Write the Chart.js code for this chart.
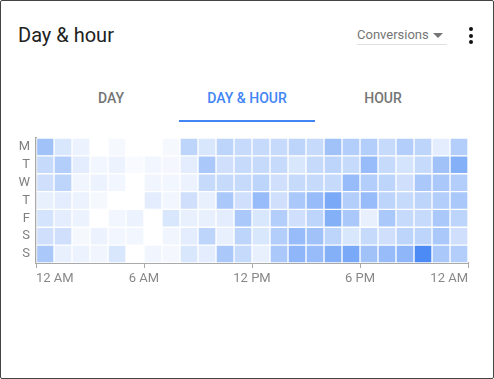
<!DOCTYPE html>
<html>
<head>
<meta charset="utf-8">
<script src="https://cdn.jsdelivr.net/npm/chart.js@4"></script>
<style>
  body { margin: 0; background: #fff; font-family: Roboto, Arial, sans-serif; }
  .card { position: relative; width: 494px; height: 379px; box-sizing: border-box; border: 1px solid #444; border-radius: 2px; overflow: hidden; }
  .title { position: absolute; left: 17px; top: 22px; font-size: 20px; color: #212121; }
  .metric { position: absolute; left: 356px; top: 26px; width: 90px; height: 17px; border-bottom: 1px solid #e0e0e0; font-size: 13px; color: #757575; }
  .caret { position: absolute; left: 76px; top: 6px; width: 0; height: 0; border-left: 5px solid transparent; border-right: 5px solid transparent; border-top: 5px solid #757575; }
  .kebab { position: absolute; left: 468px; top: 26px; }
  .kebab i { display: block; width: 4px; height: 4px; border-radius: 2px; background: #111; margin-bottom: 2.5px; }
  .tab { position: absolute; top: 89px; font-size: 14px; font-weight: 500; color: #757575; transform: translateX(-50%); white-space: nowrap; }
  .tab.on { color: #4285f4; }
  .bar { position: absolute; left: 178px; top: 119px; width: 136px; height: 2px; background: #4285f4; }
  .chartbox { position: absolute; left: 0; top: 130px; width: 494px; height: 165px; }
</style>
</head>
<body>
<div class="card">
  <div class="title">Day &amp; hour</div>
  <div class="metric">Conversions<span class="caret"></span></div>
  <div class="kebab"><i></i><i></i><i></i></div>
  <div class="tab" style="left:110px">DAY</div>
  <div class="tab on" style="left:246px">DAY &amp; HOUR</div>
  <div class="tab" style="left:382px">HOUR</div>
  <div class="bar"></div>
  <div class="chartbox"><canvas id="heatmap"></canvas></div>
</div>
<script>
const days = ['M', 'T', 'W', 'T', 'F', 'S', 'S'];
const hourTicks = ['12 AM', '6 AM', '12 PM', '6 PM', '12 AM'];

// relative conversions per hour (0 = none, 100 = max), one row per day
const mon = [50, 20, 10, 0, 5, 0, 0, 5, 35, 20, 35, 30, 30, 30, 35, 30, 50, 40, 40, 30, 40, 35, 15, 40];
const tue = [30, 40, 15, 7, 10, 4, 7, 6, 15, 45, 25, 30, 30, 30, 20, 30, 35, 30, 55, 30, 22, 30, 50, 65];
const wed = [25, 35, 8, 10, 7, 0, 8, 7, 10, 30, 30, 30, 35, 25, 30, 30, 30, 55, 40, 35, 25, 45, 45, 40];
const thu = [12, 15, 10, 5, 0, 0, 15, 7, 25, 12, 45, 25, 55, 25, 45, 55, 70, 40, 55, 35, 30, 35, 40, 45];
const fri = [22, 15, 10, 0, 7, 10, 0, 20, 12, 12, 15, 45, 20, 40, 25, 35, 65, 45, 12, 45, 30, 30, 45, 35];
const sat = [25, 25, 5, 10, 7, 7, 0, 8, 15, 35, 12, 35, 20, 40, 55, 50, 35, 20, 30, 25, 35, 35, 45, 25];
const sun = [45, 12, 10, 8, 20, 0, 8, 6, 20, 15, 45, 30, 12, 45, 60, 55, 65, 70, 50, 55, 60, 95, 45, 40];
const week = [mon, tue, wed, thu, fri, sat, sun];

function shade(v) {
    return `rgba(66, 133, 244, ${v / 100})`;
}

Chart.defaults.font.family = 'Roboto, Arial, sans-serif';
Chart.defaults.font.size = 13;

// one floating-bar dataset per hour, spanning [hour, hour + 1] on each day row
const datasets = [];
for (let h = 0; h < 24; h++) {
    datasets.push({
        data: days.map(() => [h, h + 1]),
        backgroundColor: week.map(row => shade(row[h])),
        borderColor: '#fff',
        borderWidth: 1,
        borderSkipped: false,
        grouped: false,
        barPercentage: 1,
        categoryPercentage: 1
    });
}

new Chart(document.getElementById('heatmap'), {
    type: 'bar',
    data: { labels: days, datasets: datasets },
    options: {
        indexAxis: 'y',
        responsive: true,
        maintainAspectRatio: false,
        animation: false,
        layout: { padding: { left: 0, right: 27, top: 7, bottom: 0 } },
        plugins: { legend: { display: false }, tooltip: { enabled: false } },
        scales: {
            x: {
                type: 'linear',
                min: 0,
                max: 24,
                z: 1,
                afterFit: s => { s.height = 33; s.paddingLeft = 0; s.paddingRight = 0; },
                grid: { drawOnChartArea: false, tickLength: 5, color: '#aaa' },
                border: { color: '#aaa', width: 2 },
                ticks: {
                    stepSize: 6,
                    align: 'inner',
                    maxRotation: 0,
                    autoSkip: false,
                    padding: 3,
                    color: '#888',
                    callback: v => hourTicks[v / 6]
                }
            },
            y: {
                type: 'category',
                z: 1,
                afterFit: s => { s.width = 35; s.paddingTop = 0; s.paddingBottom = 0; },
                grid: { drawOnChartArea: false, drawTicks: false },
                border: { color: '#aaa', width: 2 },
                ticks: { padding: 6, color: '#808080', autoSkip: false }
            }
        }
    }
});
</script>
</body>
</html>
